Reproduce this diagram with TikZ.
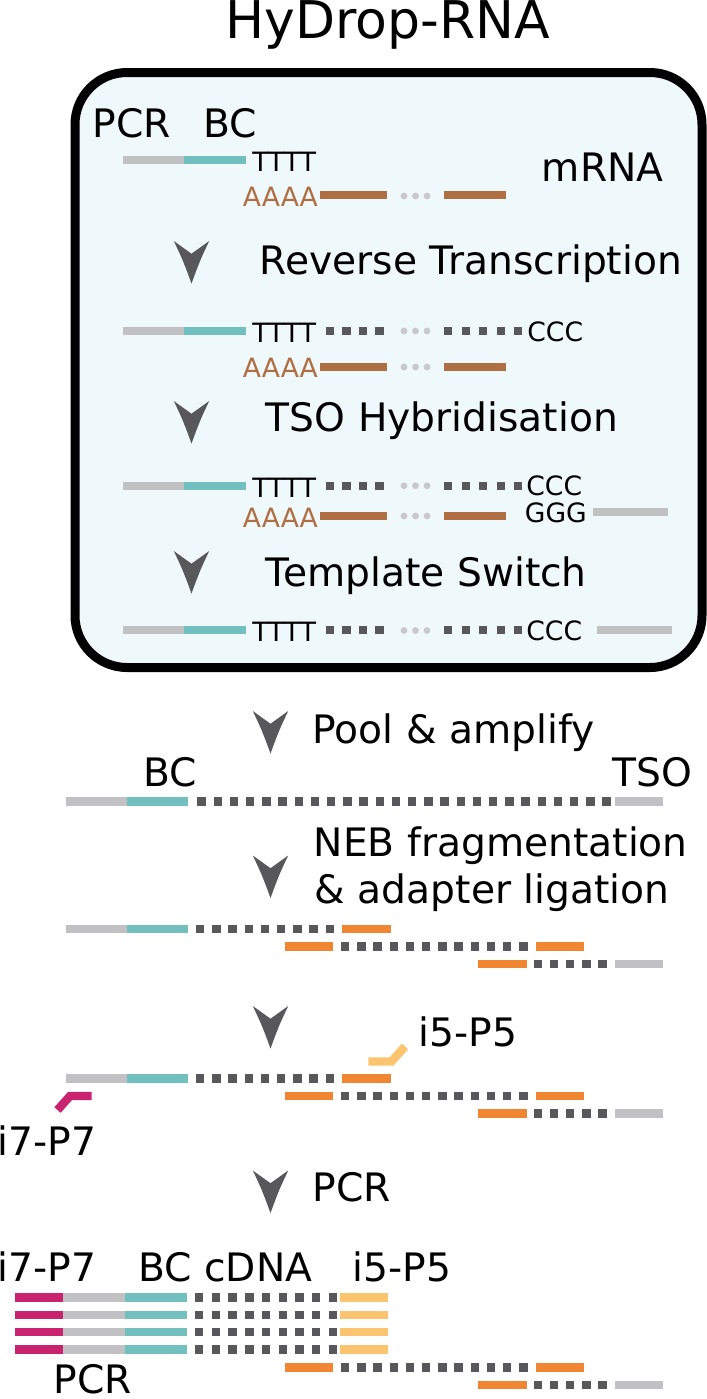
\documentclass[tikz,border=0pt]{standalone}
\usepackage{fontspec}
\setmainfont{DejaVu Sans}
\definecolor{boxfill}{HTML}{EFF8FB}
\definecolor{lgray}{HTML}{C1C1C3}
\definecolor{tealc}{HTML}{72BFBF}
\definecolor{brownc}{HTML}{B06F42}
\definecolor{dk}{HTML}{58585A}
\definecolor{dotg}{HTML}{C9C9CD}
\definecolor{orc}{HTML}{F08532}
\definecolor{lor}{HTML}{FBC46E}
\definecolor{mag}{HTML}{C9236F}
\tikzset{
 bar/.style={line width=4.2pt},
 lbl/.style={anchor=base west, inner sep=0pt, font=\fontsize{19.6pt}{23pt}\selectfont},
 sm/.style={anchor=base west, inner sep=0pt, font=\fontsize{13.3pt}{16pt}\selectfont},
 ttl/.style={anchor=base west, inner sep=0pt, font=\fontsize{26pt}{30pt}\selectfont},
}
\newcommand\sqrow[4]{\foreach \k in {1,...,#3}{\fill[dk] ({#1+(\k-1)*#4},{#2-4.2}) rectangle ++(8.4,8.4);}}
\newcommand\chev[2]{\fill[dk] ({#1-17.7},#2) -- (#1,{#2+12.7}) -- ({#1+17.7},#2) .. controls ({#1+8.5},{#2+19.5}) .. (#1,{#2+42.5}) .. controls ({#1-8.5},{#2+19.5}) .. cycle;}
\newcommand\dotsrow[1]{\foreach \xx in {404,415.5,427}{\fill[dotg] (\xx,#1) circle[radius=1.7pt];}}
\begin{document}
\begin{tikzpicture}[x=0.5pt,y=-0.5pt]
\useasboundingbox (0,0) rectangle (707,1399);
% title
\node[ttl] (title) at (225,38) {HyDrop-RNA};
% box
\draw[line width=4.5pt, fill=boxfill, rounded corners=26pt] (75,72.5) rectangle (702,667.5);
% row 1
\node[lbl] (pcr1) at (92,137) {PCR};
\node[lbl] (bc1) at (203,137) {BC};
\draw[bar,lgray] (123,160) -- (184,160);
\draw[bar,tealc] (184,160) -- (246,160);
\node[sm] (t1) at (252,171.5) {TTTT};
\node[sm,text=brownc] (a1) at (242.5,206) {AAAA};
\draw[bar,brownc] (320,195) -- (387,195);
\dotsrow{196}
\draw[bar,brownc] (444,195) -- (506,195);
\node[lbl] (mrna) at (541.5,181.5) {mRNA};
\chev{191.5}{241}
\node[lbl] (rt) at (259.5,274.3) {Reverse Transcription};
% row 2
\draw[bar,lgray] (123,331) -- (184,331);
\draw[bar,tealc] (184,331) -- (246,331);
\node[sm] (t2) at (252,342.5) {TTTT};
\sqrow{325.6}{331}{4}{16.5}
\dotsrow{331}
\sqrow{444}{331}{5}{17.5}
\node[sm] (c2) at (527,341.5) {CCC};
\node[sm,text=brownc] (a2) at (242.5,377.7) {AAAA};
\draw[bar,brownc] (320,366.7) -- (387,366.7);
\dotsrow{367}
\draw[bar,brownc] (444,366.7) -- (506,366.7);
\chev{191.5}{401}
\node[lbl] (tsoh) at (265.5,431.7) {TSO Hybridisation};
% row 3
\draw[bar,lgray] (123,485.7) -- (184,485.7);
\draw[bar,tealc] (184,485.7) -- (246,485.7);
\node[sm] (t3) at (252,497) {TTTT};
\sqrow{325.6}{485.7}{4}{16.5}
\dotsrow{485.7}
\sqrow{444}{485.7}{5}{17.5}
\node[sm] (c3) at (526,495.5) {CCC};
\node[sm,text=brownc] (a3) at (242.5,527) {AAAA};
\draw[bar,brownc] (320,516) -- (387,516);
\dotsrow{516}
\draw[bar,brownc] (444,516) -- (506,516);
\node[sm] (g3) at (524.5,522.7) {GGG};
\draw[bar,lgray] (593,512) -- (667.5,512);
\chev{191.5}{551}
\node[lbl] (ts) at (265.5,586) {Template Switch};
% row 4
\draw[bar,lgray] (123,630) -- (184,630);
\draw[bar,tealc] (184,630) -- (246,630);
\node[sm] (t4) at (252,641.5) {TTTT};
\sqrow{325.6}{630}{4}{16.5}
\dotsrow{630.5}
\sqrow{444}{630}{5}{17.5}
\node[sm] (c4) at (526,640) {CCC};
\draw[bar,lgray] (597,630) -- (671.5,630);
% pool
\chev{270.5}{711}
\node[lbl] (pool) at (312.2,743.3) {Pool \& amplify};
\node[lbl] (bc2) at (143,786.7) {BC};
\node[lbl] (tsol) at (612,786.7) {TSO};
\draw[bar,lgray] (65.7,801.5) -- (127.3,801.5);
\draw[bar,tealc] (127.3,801.5) -- (188.3,801.5);
\sqrow{197.3}{801.5}{26}{16.2}
\draw[bar,lgray] (615.3,801.5) -- (663.4,801.5);
% NEB
\chev{270.5}{855.5}
\node[lbl] (neb) at (313.5,856) {NEB fragmentation};
\node[lbl] (adl) at (314.4,903.3) {\& adapter ligation};
\draw[bar,lgray] (65.7,929) -- (127.3,929);
\draw[bar,tealc] (127.3,929) -- (188.3,929);
\sqrow{196}{929}{9}{16.2}
\draw[bar,orc] (342.3,929) -- (390.7,929);
\draw[bar,orc] (285,946.5) -- (333.3,946.5);
\sqrow{341}{946.5}{12}{16.2}
\draw[bar,orc] (535.7,946.5) -- (583.8,946.5);
\draw[bar,orc] (478.3,964) -- (526.6,964);
\sqrow{533.6}{964}{5}{16.2}
\draw[bar,lgray] (615.3,964) -- (663.4,964);
% primers
\chev{270.5}{1006}
\node[lbl] (i5a) at (418,1046) {i5-P5};
\draw[bar,lor] (368.3,1061.5) -- (391.5,1061.5) -- (405,1046.5);
\draw[bar,lgray] (65.7,1078.5) -- (127.3,1078.5);
\draw[bar,tealc] (127.3,1078.5) -- (188.3,1078.5);
\sqrow{196}{1078.5}{9}{16.2}
\draw[bar,orc] (342.3,1078.5) -- (390.7,1078.5);
\draw[bar,orc] (285,1096) -- (333.3,1096);
\sqrow{341}{1096}{12}{16.2}
\draw[bar,orc] (535.7,1096) -- (583.8,1096);
\draw[bar,orc] (478.3,1113.5) -- (526.6,1113.5);
\sqrow{533.6}{1113.5}{5}{16.2}
\draw[bar,lgray] (615.3,1113.5) -- (663.4,1113.5);
\draw[bar,mag] (91.7,1096) -- (70,1096) -- (57.5,1110);
\node[lbl] (i7a) at (-2.6,1155) {i7-P7};
% PCR
\chev{270.5}{1170.5}
\node[lbl] (pcr2) at (312.2,1201.7) {PCR};
\node[lbl] (i7b) at (-3,1281.7) {i7-P7};
\node[lbl] (bccdna) at (138,1281.7) {BC cDNA};
\node[lbl] (i5b) at (352.4,1281.7) {i5-P5};
\foreach \yy in {1297.5,1315,1332,1349.3}{
 \draw[bar,mag] (15,\yy) -- (63.3,\yy);
 \draw[bar,lgray] (63.3,\yy) -- (125,\yy);
 \draw[bar,tealc] (125,\yy) -- (186.5,\yy);
 \sqrow{195}{\yy}{9}{16.7}
 \draw[bar,lor] (340,\yy) -- (388.3,\yy);
}
\draw[bar,orc] (285,1367.5) -- (333.3,1367.5);
\sqrow{341}{1367.5}{12}{16.2}
\draw[bar,orc] (535.7,1367.5) -- (583.8,1367.5);
\draw[bar,orc] (478.3,1385) -- (526.6,1385);
\sqrow{533.6}{1385}{5}{16.2}
\draw[bar,lgray] (615.3,1385) -- (663.4,1385);
\node[lbl, text depth=0pt] (pcr3) at (53,1393.5) {PCR};
\end{tikzpicture}
\end{document}
